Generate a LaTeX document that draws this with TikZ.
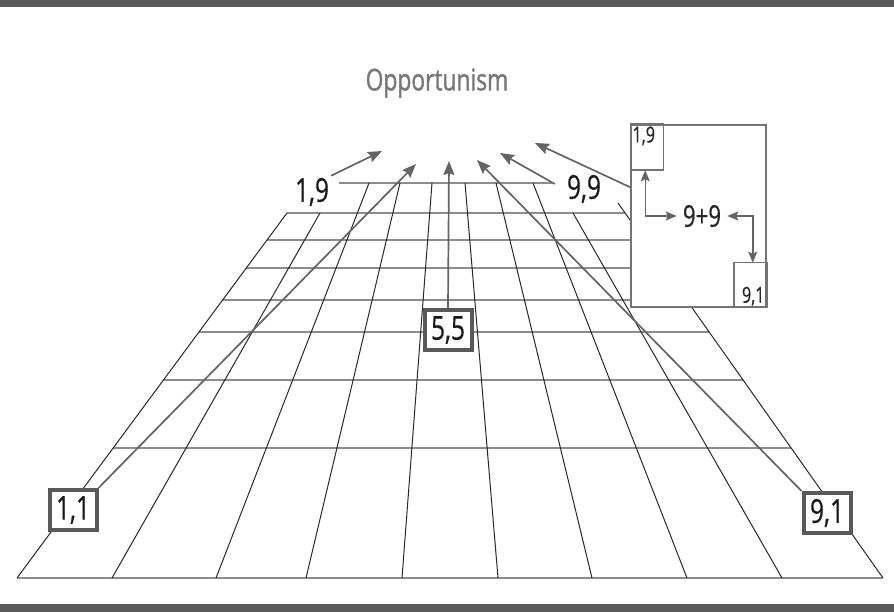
\documentclass[tikz,border=0pt]{standalone}
\usepackage{fontspec}
\setmainfont{Open Sans}[FakeStretch=0.76]
\newfontfamily\labelfont{Open Sans}[FakeStretch=0.74, FakeBold=0.5]
\newfontfamily\titlefont{Open Sans}[FakeStretch=0.76, FakeBold=1.2]
\usetikzlibrary{arrows.meta,calc}
\definecolor{bargray}{RGB}{90,90,90}
\definecolor{arrowgray}{RGB}{100,100,100}
\definecolor{rowgray}{RGB}{140,140,140}
\definecolor{colgray}{RGB}{40,40,40}
\definecolor{titlegray}{RGB}{120,120,120}

\begin{document}
\begin{tikzpicture}[x=1pt,y=-1pt,
    lbl/.style={font=\labelfont\fontsize{33}{33}\selectfont, text=black!90, inner sep=2pt},
    pbox/.style={lbl, draw=black!65, line width=4pt, fill=white, minimum width=47pt, minimum height=40pt},
    small/.style={font=\labelfont\fontsize{22}{22}\selectfont, text=black!85, inner sep=2pt},
    pointer/.style={draw=arrowgray, line width=1.7pt, -{Stealth[length=14pt,width=11pt,inset=2pt]}},
    elbow/.style={draw=arrowgray, line width=1.5pt, {Stealth[length=11pt,width=9pt,inset=2pt]}-{Stealth[length=11pt,width=9pt,inset=2pt]}},
    rowline/.style={draw=rowgray, line width=2.2pt},
    colline/.style={draw=colgray, line width=1pt},
    thinbox/.style={draw=black!55, line width=1.5pt}]
    \useasboundingbox (0,0) rectangle (894,612);

    % bars
    \fill[bargray] (0,0) rectangle (894,7);
    \fill[bargray] (0,604) rectangle (894,612);

    \node[font=\titlefont\fontsize{30}{30}\selectfont, text=titlegray] (ttl) at (437,83) {Opportunism};

    % grid
    \foreach \yr in {578,448,380,332,300,268,240,213}
        \draw[rowline] ({17+(578-\yr)*0.7397},\yr) -- ({883-(578-\yr)*0.7068},\yr);
    \draw[rowline] (339,183) -- (552,183);
    \foreach \xb/\xt/\yt in {17/287/213, 112/320/213, 216/369/183, 306/400/183, 402/432/183,
                             498/465/183, 592/496/183, 687/533/183, 782/573/213, 883/618/203}
        \draw[colline] (\xb,578) -- (\xt,\yt);

    % corner labels
    \node[lbl] (l19) at (312,192) {1,9};
    \node[lbl] (l99) at (584,189) {9,9};
    \node[pbox] (b11) at (73,510) {1,1};
    \node[pbox] (b55) at (448,330) {5,5};
    \node[pbox] (b91) at (827,513) {9,1};

    % 9+9 box
    \node[thinbox, fill=white, minimum width=135pt, minimum height=182pt] (sumbox) at (698.5,216) {};
    \coordinate (c19) at ($(sumbox.north west)+(33,46)$);
    \coordinate (c91) at ($(sumbox.south east)+(-33,-45)$);
    \draw[thinbox] (sumbox.north west) rectangle (c19);
    \draw[thinbox] (c91) rectangle (sumbox.south east);
    \node[small, anchor=north west] (in19) at (sumbox.north west) {1,9};
    \node[small, anchor=south east] (in91) at (sumbox.south east) {9,1};
    \node[font=\labelfont\fontsize{30}{30}\selectfont, text=black!85, inner sep=6pt] (sum) at (702,216) {9+9};
    \draw[elbow] ($(sumbox.north west)+(15,46)$) |- (sum.west);
    \draw[elbow] (sum.east) -| ($(sumbox.south east)+(-14,-45)$);

    % arrows towards the top
    \coordinate (t1) at (382,151);
    \coordinate (t2) at (416,164);
    \coordinate (t3) at (449,161);
    \coordinate (t4) at (477,160);
    \coordinate (t5) at (500,153);
    \coordinate (t6) at (535,143);
    \draw[pointer] (l19.north east) -- (t1);
    \draw[pointer] (b11.north east) -- (t2);
    \draw[pointer] (b55.north) -- (t3);
    \draw[pointer] (b91.north west) -- (t4);
    \draw[pointer] ([xshift=-10pt,yshift=5pt]l99.west) -- (t5);
    \draw[pointer] ([yshift=-63pt]sumbox.north west) -- (t6);
\end{tikzpicture}
\end{document}
